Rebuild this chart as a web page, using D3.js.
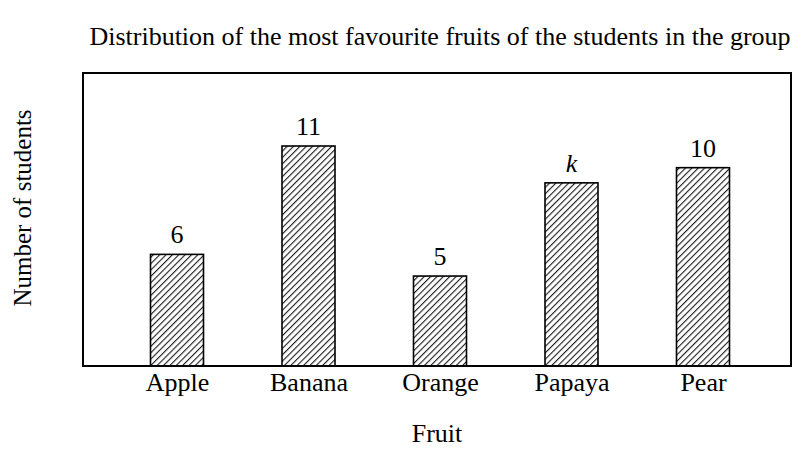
<!DOCTYPE html>
<html>
<head>
<meta charset="utf-8">
<script src="https://cdn.jsdelivr.net/npm/d3@7"></script>
<style>
  body { margin: 0; background: #fff; }
  text { font-family: "Liberation Serif", "Times New Roman", serif; fill: #000; }
</style>
</head>
<body>
<div id="chart"></div>
<script>
// data
const fruits = ["Apple", "Banana", "Orange", "Papaya", "Pear"];
const counts = [6, 11, 5, 9.3, 10];          // Papaya is the unknown k
const countLabels = ["6", "11", "5", "k", "10"];

const W = 798, H = 449;
const box = { left: 83, right: 791, top: 73, bottom: 366 };

const svg = d3.select("#chart").append("svg").attr("width", W).attr("height", H);

// hatch pattern
const defs = svg.append("defs");
const pat = defs.append("pattern")
  .attr("id", "hatch")
  .attr("patternUnits", "userSpaceOnUse")
  .attr("width", 4.5).attr("height", 4.5)
  .attr("patternTransform", "rotate(45)");
pat.append("rect").attr("width", 4.5).attr("height", 4.5).attr("fill", "#fff");
pat.append("line").attr("x1", 0).attr("y1", 0).attr("x2", 0).attr("y2", 4.5)
  .attr("stroke", "#1a1a1a").attr("stroke-width", 2.2);

// scales (drawing is schematic, baseline sits a bit below zero)
const x = d3.scalePoint().domain(fruits).range([177, 703]);
const y = d3.scaleLinear().domain([0.85, 11]).range([box.bottom, 146]);
const barW = 53;

// bars
svg.append("g").selectAll("rect")
  .data(fruits)
  .join("rect")
  .attr("x", d => x(d) - barW / 2)
  .attr("y", (d, i) => y(counts[i]))
  .attr("width", barW)
  .attr("height", (d, i) => box.bottom - y(counts[i]))
  .attr("fill", "url(#hatch)")
  .attr("stroke", "#000")
  .attr("stroke-width", 1.6);

// value labels
svg.append("g").selectAll("text")
  .data(fruits)
  .join("text")
  .attr("x", d => x(d))
  .attr("y", (d, i) => y(counts[i]) - 11)
  .attr("text-anchor", "middle")
  .style("font-size", "26px")
  .style("font-style", (d, i) => countLabels[i] === "k" ? "italic" : "normal")
  .text((d, i) => countLabels[i]);

// frame
svg.append("rect")
  .attr("x", box.left).attr("y", box.top)
  .attr("width", box.right - box.left).attr("height", box.bottom - box.top)
  .attr("fill", "none").attr("stroke", "#000").attr("stroke-width", 2);

// x axis labels
const xAxis = svg.append("g")
  .attr("transform", `translate(0,${box.bottom})`)
  .call(d3.axisBottom(x).tickSize(0).tickPadding(7));
xAxis.select(".domain").remove();
xAxis.selectAll("text").style("font-size", "26px").attr("fill", "#000");

// titles
svg.append("text")
  .attr("x", 440).attr("y", 45)
  .attr("text-anchor", "middle")
  .style("font-size", "26px")
  .text("Distribution of the most favourite fruits of the students in the group");

svg.append("text")
  .attr("x", 437).attr("y", 442)
  .attr("text-anchor", "middle")
  .style("font-size", "26px")
  .text("Fruit");

svg.append("text")
  .attr("transform", "translate(31,208) rotate(-90)")
  .attr("text-anchor", "middle")
  .style("font-size", "25px")
  .text("Number of students");
</script>
</body>
</html>
